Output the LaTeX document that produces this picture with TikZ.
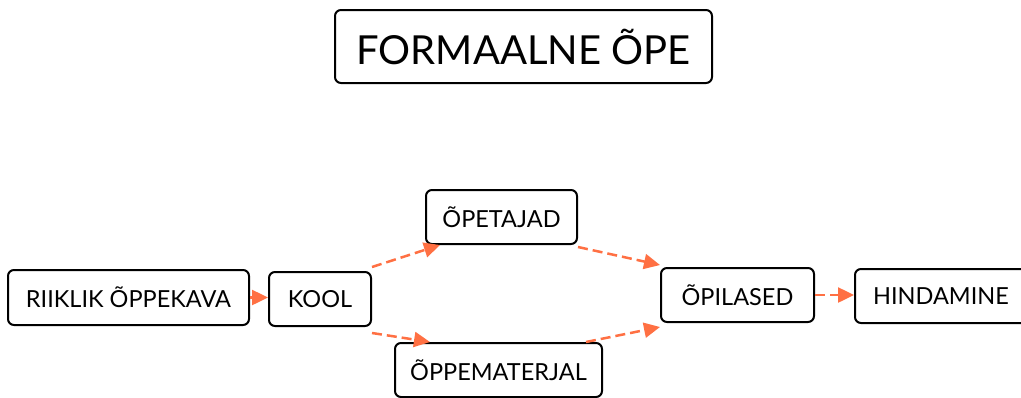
\documentclass[tikz,border=0pt]{standalone}
\usepackage{fontspec}
\setmainfont{Lato}
\usetikzlibrary{arrows.meta}
\definecolor{arr}{RGB}{255,112,67}
\begin{document}
\begin{tikzpicture}[x=1pt,y=-1pt,
  box/.style={draw=black, line width=2pt, rounded corners=6pt, fill=white, inner sep=0pt, minimum height=54pt, font=\fontsize{23.5}{26}\selectfont},
  conn/.style={draw=arr, line width=2.5pt, dash pattern=on 10pt off 5pt, -{Triangle[length=16pt,width=15pt]}},
  solidconn/.style={draw=arr, line width=2.5pt, -{Triangle[length=16pt,width=15pt]}}]
\useasboundingbox (0,0) rectangle (1021,397);
\node[box, minimum width=377pt, minimum height=73pt, font=\fontsize{40}{44}\selectfont] (title) at (523.5,46.5) {FORMAALNE ÕPE};
\node[box, minimum width=241pt, minimum height=55pt] (riik) at (128.5,297.5) {RIIKLIK ÕPPEKAVA};
\node[box, minimum width=102pt] (kool) at (320,299) {KOOL};
\node[box, minimum width=151pt] (opet) at (501.5,217) {ÕPETAJAD};
\node[box, minimum width=207pt] (mat) at (498.5,370) {ÕPPEMATERJAL};
\node[box, minimum width=153pt] (opil) at (737.5,295) {ÕPILASED};
\node[box, minimum width=172pt] (hind) at (941,296) {HINDAMINE};
\draw[solidconn] (riik.east) -- (kool.west |- riik.east);
\draw[conn] ([yshift=4pt]kool.north east) -- ([xshift=15pt]opet.south west);
\draw[conn] ([yshift=-6pt]kool.south east) -- ([xshift=36pt]mat.north west);
\draw[conn] ([yshift=-2pt]opet.south east) -- ([yshift=2pt]opil.north west);
\draw[conn] ([xshift=-17pt]mat.north east) -- ([yshift=-4pt]opil.south west);
\draw[conn] (opil.east) -- (hind.west |- opil.east);
\end{tikzpicture}
\end{document}
